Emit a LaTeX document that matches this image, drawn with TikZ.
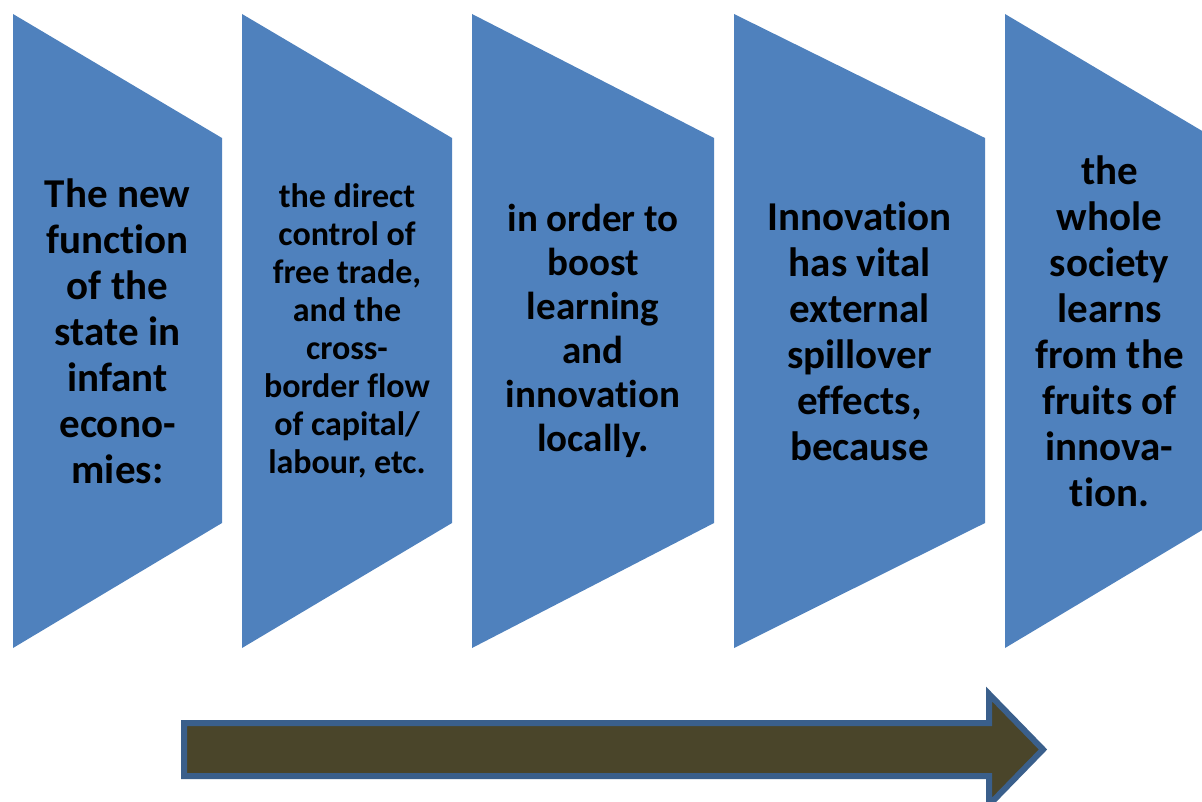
\documentclass[tikz,border=0pt]{standalone}
\usepackage{fontspec}
\setmainfont{Carlito}[Ligatures=NoCommon]
\definecolor{panelblue}{HTML}{4F81BD}
\definecolor{arrowfill}{HTML}{4A452A}
\definecolor{arrowline}{HTML}{3A5F8B}
\begin{document}
\begin{tikzpicture}[x=0.75pt,y=-0.75pt,
  panel/.style={fill=panelblue},
  lbl/.style={align=center,inner sep=0pt,font=\bfseries\fontsize{30.75}{34.5}\selectfont},
  lblsmall/.style={align=center,inner sep=0pt,font=\bfseries\fontsize{25.5}{28.5}\selectfont},
  lblmid/.style={align=center,inner sep=0pt,font=\bfseries\fontsize{29.25}{33}\selectfont},
  flow/.style={fill=arrowfill,draw=arrowline,line width=4.5pt,line join=miter}]
\useasboundingbox (0,0) rectangle (1202,802);
\clip (0,0) rectangle (1202,802);
\foreach \l/\r in {13/222,242/452,472/714,734/985,1005/1214}
  \fill[panel] (\l,14) -- (\r,138) -- (\r,523) -- (\l,648) -- cycle;
\node[lbl] (p1) at (117.5,331) {The new\\function\\of the\\state in\\infant\\econo-\\mies:};
\node[lblsmall] (p2) at (347,331) {the direct\\control of\\free trade,\\and the\\cross-\\border flow\\of capital/\\labour, etc.};
\node[lblmid] (p3) at (593,331) {in order to\\boost\\learning\\and\\innovation\\locally.};
\node[lbl] (p4) at (859.5,331) {Innovation\\has vital\\external\\spillover\\effects,\\because};
\node[lbl] (p5) at (1109.5,331) {the\\whole\\society\\learns\\from the\\fruits of\\innova-\\tion.};
% progress arrow
\draw[flow] (184,723) -- (989,723) -- (989,694) -- (1043,749.5) -- (989,805) -- (989,776) -- (184,776) -- cycle;
\end{tikzpicture}
\end{document}
